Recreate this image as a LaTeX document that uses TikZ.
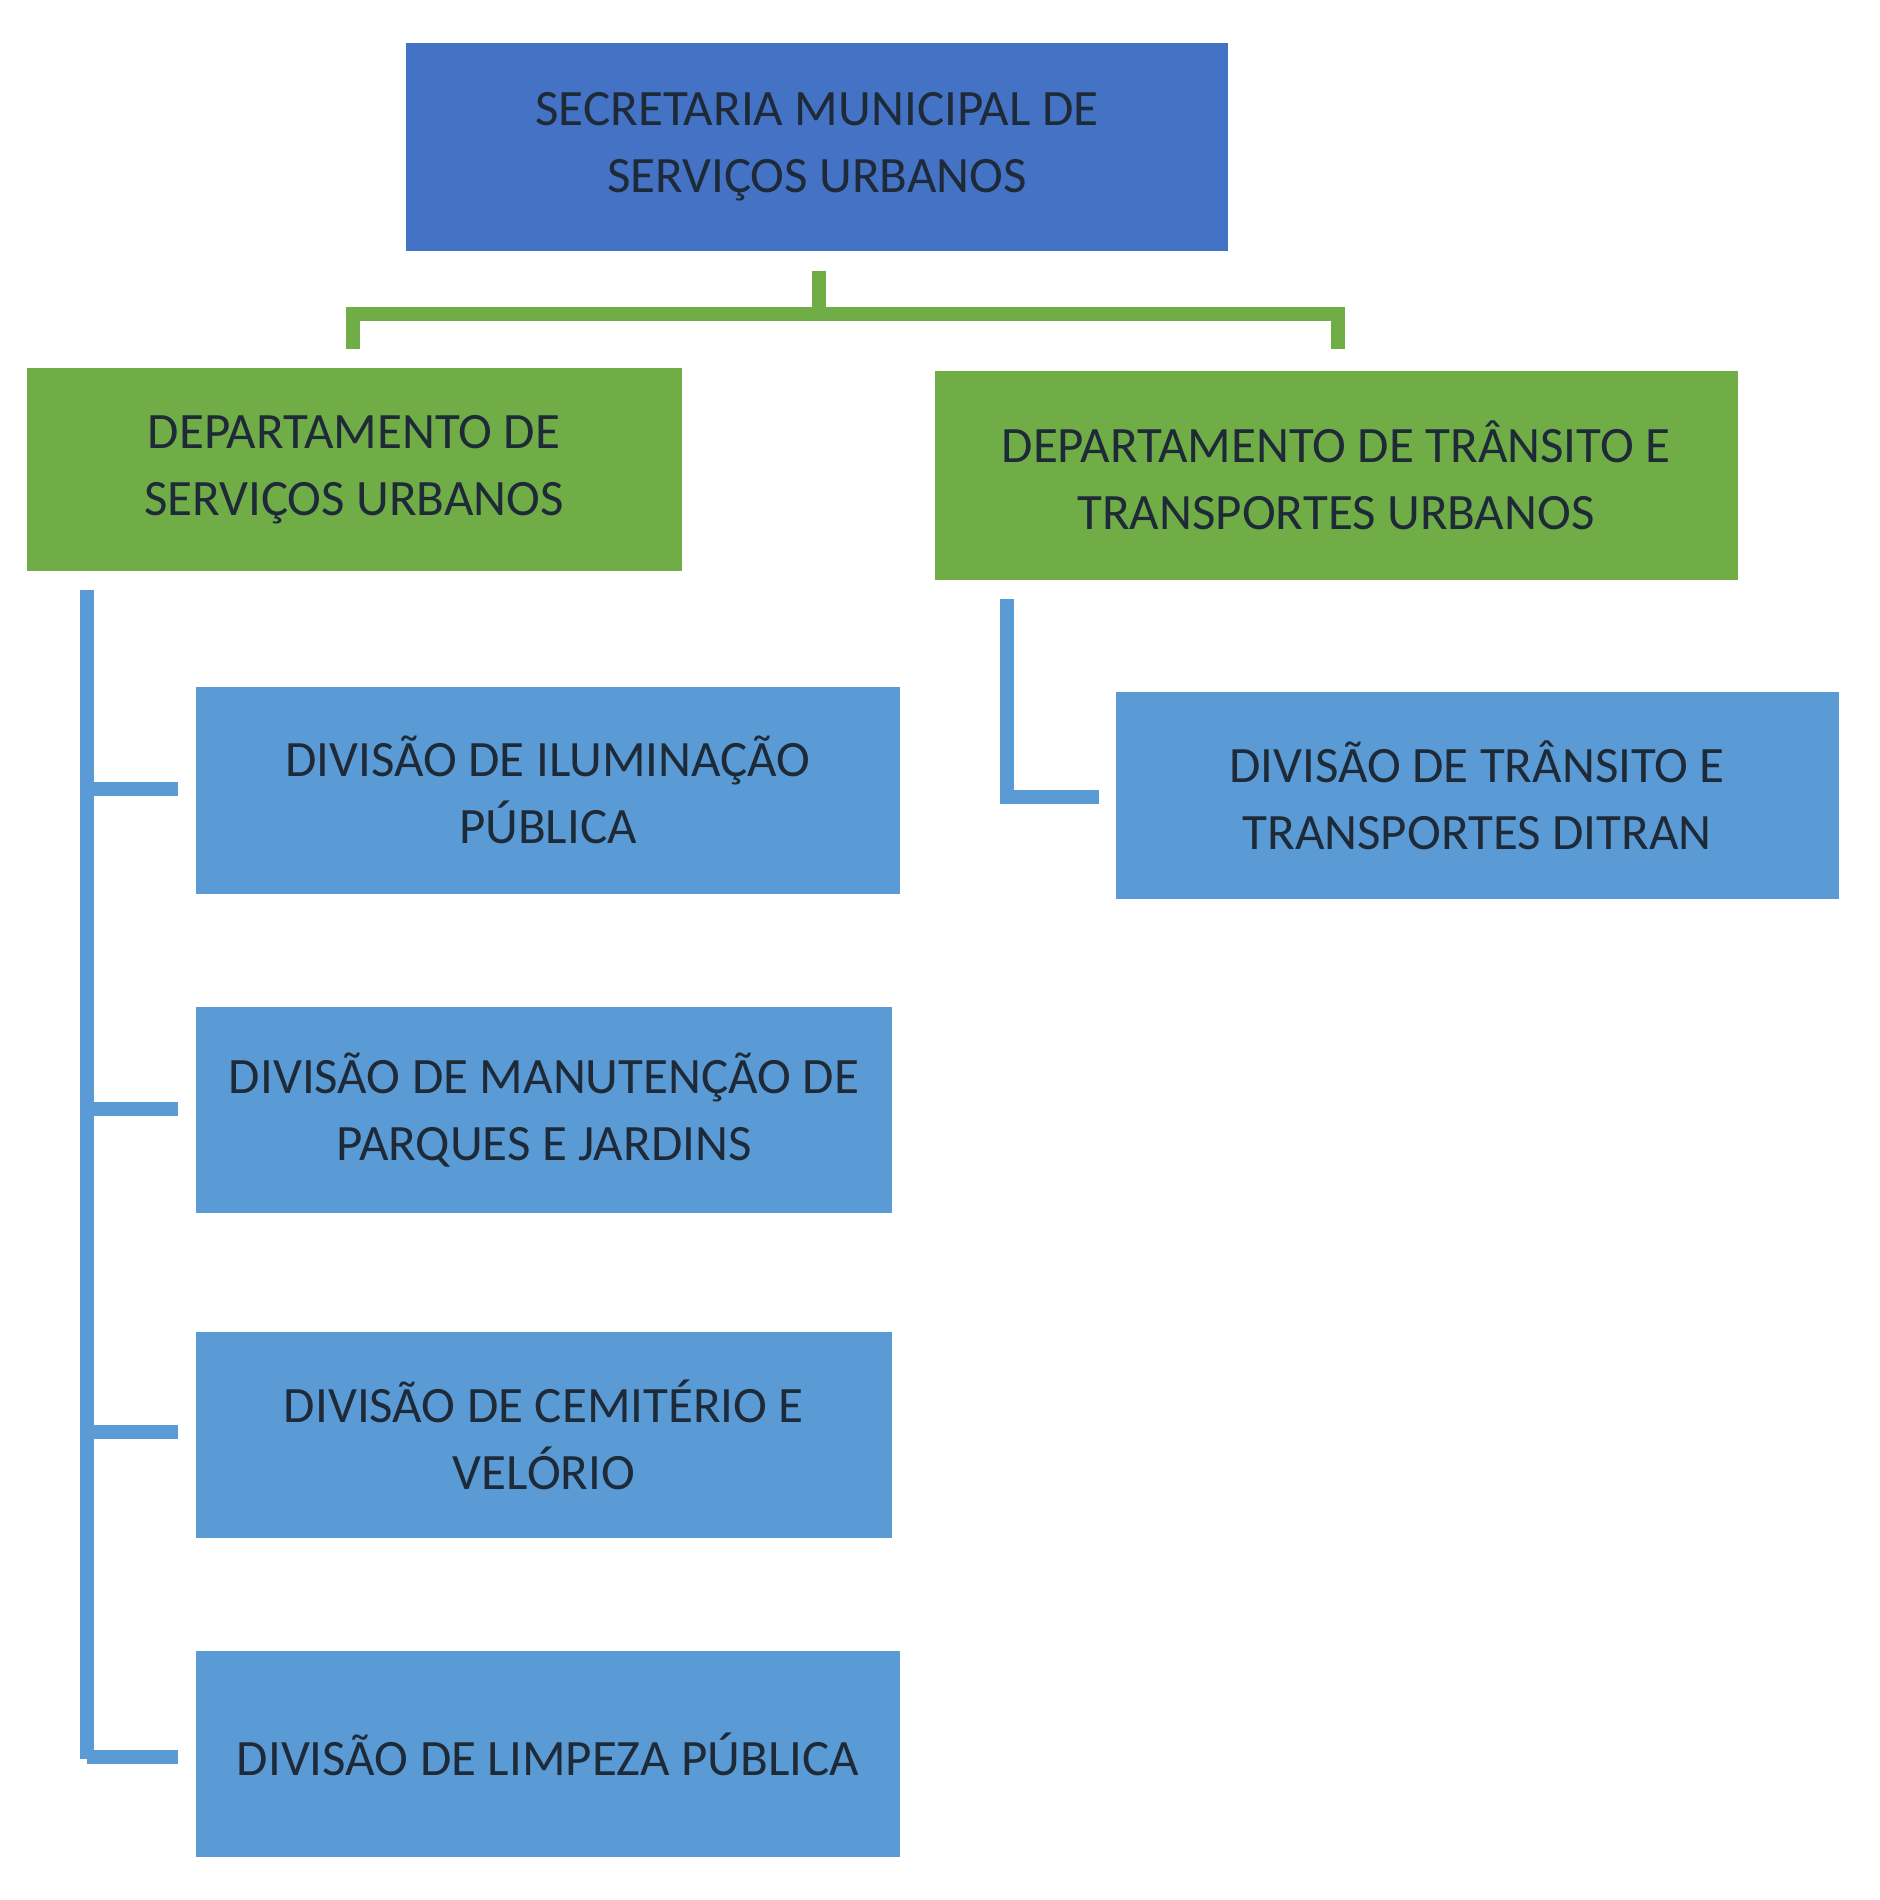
\documentclass[tikz,border=0pt]{standalone}
\usepackage{fontspec}
\setmainfont{Carlito}
\definecolor{topblue}{HTML}{4472C4}
\definecolor{grn}{HTML}{70AD47}
\definecolor{lblue}{HTML}{5B9BD5}
\definecolor{txt}{HTML}{1E2A38}
\begin{document}
\begin{tikzpicture}[x=0.01cm,y=-0.01cm,
  boxstyle/.style={inner sep=0pt,align=center,text=txt,font=\fontsize{14.5}{19}\selectfont},
  gline/.style={draw=grn,line width=4pt},
  bline/.style={draw=lblue,line width=4pt}]
\useasboundingbox (0,0) rectangle (1880,1900);
\newcommand{\bx}[6]{\fill[#6] (#2,#3) rectangle (#4,#5); \node[boxstyle] (#1) at ({(#2+#4)/2},{(#3+#5)/2}) {#1txt};}
\fill[topblue] (406,43) rectangle (1228,251);
\node[boxstyle] (sec) at (817,147) {SECRETARIA MUNICIPAL DE\\SERVIÇOS URBANOS};
\fill[grn] (27,368) rectangle (682,571);
\node[boxstyle] (dsu) at (354,470) {DEPARTAMENTO DE\\SERVIÇOS URBANOS};
\fill[grn] (935,371) rectangle (1738,580);
\node[boxstyle] (dtt) at (1336,475) {DEPARTAMENTO DE TRÂNSITO E\\TRANSPORTES URBANOS};
\fill[lblue] (196,687) rectangle (900,894);
\node[boxstyle] (d1) at (548,790) {DIVISÃO DE ILUMINAÇÃO\\PÚBLICA};
\fill[lblue] (196,1007) rectangle (892,1213);
\node[boxstyle] (d2) at (544,1110) {DIVISÃO DE MANUTENÇÃO DE\\PARQUES E JARDINS};
\fill[lblue] (196,1332) rectangle (892,1538);
\node[boxstyle] (d3) at (544,1435) {DIVISÃO DE CEMITÉRIO E\\VELÓRIO};
\fill[lblue] (196,1651) rectangle (900,1857);
\node[boxstyle] (d4) at (548,1754) {DIVISÃO DE LIMPEZA PÚBLICA};
\fill[lblue] (1116,692) rectangle (1839,899);
\node[boxstyle] (d5) at (1477,795) {DIVISÃO DE TRÂNSITO E\\TRANSPORTES DITRAN};
\coordinate (gs) at (819,271);
\coordinate (gm) at (819,316);
\coordinate (gl) at (353,349);
\coordinate (gr) at (1338,349);
\draw[gline] (gs) -- (gm);
\draw[gline] (gl) |- (819,314) -| (gr);
\coordinate (lt) at (87,590);
\draw[bline] (lt) -- (87,1759);
\foreach \y in {789,1109,1432} \draw[bline] (87,\y) -- (178,\y);
\draw[bline] (87,1757) -- (178,1757);
\coordinate (rt) at (1007,599);
\draw[bline] (rt) |- (1099,797);
\end{tikzpicture}
\end{document}
